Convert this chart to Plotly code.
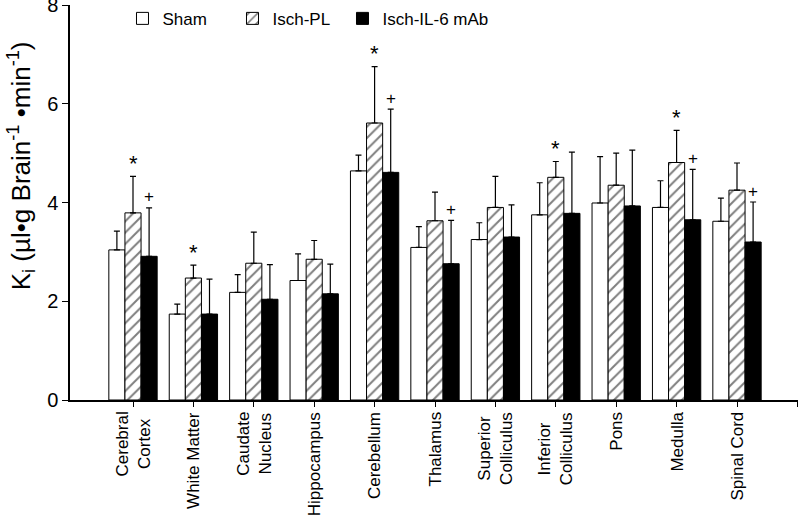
import plotly.graph_objects as go

regions = ["Cerebral<br>Cortex", "White Matter", "Caudate<br>Nucleus", "Hippocampus",
           "Cerebellum", "Thalamus", "Superior<br>Colliculus", "Inferior<br>Colliculus",
           "Pons", "Medulla", "Spinal Cord"]

sham = [3.04, 1.74, 2.18, 2.42, 4.64, 3.09, 3.25, 3.75, 3.99, 3.90, 3.62]
sham_top = [3.42, 1.94, 2.54, 2.96, 4.96, 3.51, 3.59, 4.40, 4.93, 4.44, 4.09]
isch_pl = [3.79, 2.47, 2.77, 2.85, 5.61, 3.63, 3.90, 4.51, 4.35, 4.81, 4.25]
isch_pl_top = [4.53, 2.73, 3.40, 3.23, 6.75, 4.21, 4.53, 4.83, 5.00, 5.46, 4.80]
isch_il6 = [2.91, 1.74, 2.04, 2.15, 4.61, 2.76, 3.30, 3.78, 3.93, 3.65, 3.20]
isch_il6_top = [3.89, 2.45, 2.74, 2.75, 5.89, 3.64, 3.95, 5.02, 5.06, 4.67, 4.01]

star_idx = [0, 1, 4, 7, 9]      # * over Isch-PL
plus_idx = [0, 4, 5, 9, 10]     # + over Isch-IL-6 mAb

y_ticks = [0, 2, 4, 6, 8]

FONT = "Arial, Liberation Sans, sans-serif"
xs = list(range(len(regions)))

def err(vals, tops):
    return [t - v for v, t in zip(vals, tops)]

fig = go.Figure()
common_err = dict(type="data", symmetric=False, color="black", thickness=1.2, width=3)

fig.add_trace(go.Bar(
    x=xs, y=sham, name="Sham", legend="legend",
    marker=dict(color="white", line=dict(color="black", width=1)),
    error_y=dict(array=err(sham, sham_top), arrayminus=[0] * len(sham), **common_err),
))
fig.add_trace(go.Bar(
    x=xs, y=isch_pl, name="Isch-PL", legend="legend2",
    marker=dict(color="white", line=dict(color="black", width=1),
                pattern=dict(shape="/", fgcolor="black", bgcolor="white", size=8, solidity=0.25)),
    error_y=dict(array=err(isch_pl, isch_pl_top), arrayminus=[0] * len(isch_pl), **common_err),
))
fig.add_trace(go.Bar(
    x=xs, y=isch_il6, name="Isch-IL-6 mAb", legend="legend3",
    marker=dict(color="black", line=dict(color="black", width=1)),
    error_y=dict(array=err(isch_il6, isch_il6_top), arrayminus=[0] * len(isch_il6), **common_err),
))

bar_w = 0.8 / 3
for i in star_idx:
    fig.add_annotation(x=i, y=isch_pl_top[i], xref="x", yref="y", text="*",
                       showarrow=False, yshift=13, font=dict(family=FONT, size=22, color="black"))
for i in plus_idx:
    fig.add_annotation(x=i + bar_w, y=isch_il6_top[i], xref="x", yref="y", text="+",
                       showarrow=False, yshift=11, font=dict(family=FONT, size=17, color="#000000"))

# category labels (rotated, lines centred on each other)
for i, lab in zip(xs, regions):
    fig.add_annotation(x=i, y=0, xref="x", yref="paper", text=lab, textangle=-90,
                       xanchor="center", yanchor="top", yshift=-10, showarrow=False,
                       align="center", font=dict(family=FONT, size=17, color="black"))

fig.add_annotation(
    text="K<sub>i</sub> (µl•g Brain<sup>-1</sup> •min<sup>-1</sup>)",
    textangle=-90, xref="paper", yref="paper", x=-0.068, y=0.593,
    xanchor="center", yanchor="middle", showarrow=False,
    font=dict(family=FONT, size=26, color="black"),
)

leg_common = dict(orientation="h", yref="paper", y=1.008, xanchor="left", yanchor="top",
                  font=dict(family=FONT, size=17), bgcolor="rgba(0,0,0,0)")

fig.update_layout(
    width=800, height=522,
    margin=dict(l=70, r=2, t=4, b=122),
    paper_bgcolor="white", plot_bgcolor="white",
    barmode="group", bargap=0.2, bargroupgap=0,
    font=dict(family=FONT, color="black"),
    showlegend=True,
    legend=dict(x=0.0721, **leg_common),
    legend2=dict(x=0.2232, **leg_common),
    legend3=dict(x=0.3743, **leg_common),
    xaxis=dict(range=[-1.043, 11.01], tickmode="array", tickvals=xs + [11],
               ticktext=[""] * (len(xs) + 1),
               showline=True, linecolor="black", linewidth=1.5,
               ticks="outside", ticklen=5, tickcolor="black",
               showgrid=False, zeroline=False, automargin=False),
    yaxis=dict(range=[0, 8], tickmode="array", tickvals=y_ticks,
               showline=True, linecolor="black", linewidth=1.5,
               ticks="outside", ticklen=6, tickcolor="black",
               showgrid=False, zeroline=False, automargin=False,
               ticklabeloverflow="allow",
               tickfont=dict(family=FONT, size=20, color="black")),
)

fig.write_html("out.html", config={"displayModeBar": False},
               post_script="document.body.style.margin='0';document.body.style.padding='0';")
